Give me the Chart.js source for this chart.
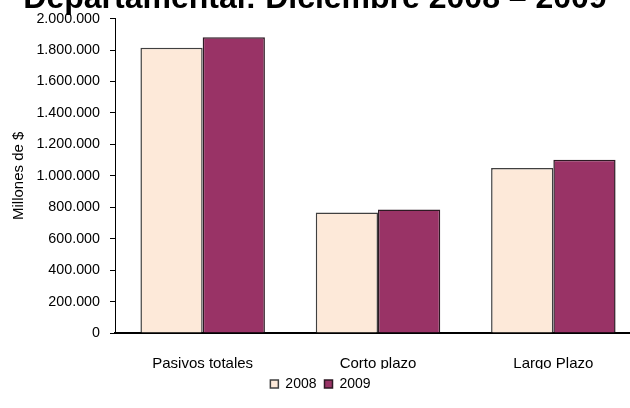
<!DOCTYPE html>
<html>
<head>
<meta charset="utf-8">
<script src="https://cdn.jsdelivr.net/npm/chart.js@4/dist/chart.umd.min.js"></script>
<style>
  html, body { margin: 0; padding: 0; background: #fff; overflow: hidden; }
  #wrap { width: 641px; height: 408px; position: relative; }
</style>
</head>
<body>
<div id="wrap"><canvas id="chart"></canvas></div>
<script>
// Datos
const categorias = ["Pasivos totales", "Corto plazo", "Largo Plazo"];
const serie2008 = [1815000, 767000, 1050000];
const serie2009 = [1882000, 786000, 1102000];
const anios = ["2008", "2009"];
const tituloTexto = "Departamental: Diciembre 2008 – 2009";

const fmtNum = (v) => Number(v).toLocaleString("de-DE");

// Título recortado arriba (como en el original)
const tituloPlugin = {
  id: "tituloRecortado",
  afterDraw(chart) {
    const ctx = chart.ctx;
    ctx.save();
    ctx.font = "bold 32px 'Liberation Sans', Arial, sans-serif";
    ctx.fillStyle = "#000";
    ctx.textAlign = "center";
    ctx.textBaseline = "alphabetic";
    ctx.fillText(tituloTexto, 315, 8);
    ctx.restore();
  },
};

Chart.defaults.font.family = "'Liberation Sans', Arial, sans-serif";
Chart.defaults.color = "#000";

new Chart(document.getElementById("chart"), {
  type: "bar",
  data: {
    labels: categorias,
    datasets: [
      {
        label: anios[0],
        data: serie2008,
        backgroundColor: "#FDE9D9",
        borderColor: "#404040",
        borderWidth: 1.5,
        categoryPercentage: 0.71,
        barPercentage: 1.0,
      },
      {
        label: anios[1],
        data: serie2009,
        backgroundColor: "#993366",
        borderColor: "#2E1A24",
        borderWidth: 1.5,
        categoryPercentage: 0.71,
        barPercentage: 1.0,
      },
    ],
  },
  options: {
    responsive: true,
    maintainAspectRatio: false,
    animation: { duration: 0 },
    layout: { padding: { top: 18, right: 0, bottom: 7, left: 0 } },
    plugins: {
      legend: {
        position: "bottom",
        labels: {
          boxWidth: 8,
          boxHeight: 8,
          padding: 8,
          font: { size: 14 },
          color: "#000",
        },
      },
      tooltip: { enabled: false },
    },
    scales: {
      x: {
        grid: { display: false },
        border: { display: true, color: "#000", width: 2 },
        ticks: { font: { size: 15 }, padding: 14, color: "#000" },
        afterFit: (s) => { s.height = 36; },
      },
      y: {
        min: 0,
        max: 2000000,
        grid: {
          drawOnChartArea: false,
          drawTicks: true,
          tickLength: 5,
          color: "#000",
        },
        border: { display: true, color: "#000", width: 1 },
        ticks: {
          stepSize: 200000,
          font: { size: 14.3 },
          padding: 10,
          color: "#000",
          callback: (v) => fmtNum(v),
        },
        title: {
          display: true,
          text: "Millones de $",
          font: { size: 15 },
          color: "#000",
          padding: { top: 10, bottom: 0 },
        },
        afterFit: (s) => { s.width = 115; },
      },
    },
  },
  plugins: [tituloPlugin],
});
</script>
</body>
</html>
